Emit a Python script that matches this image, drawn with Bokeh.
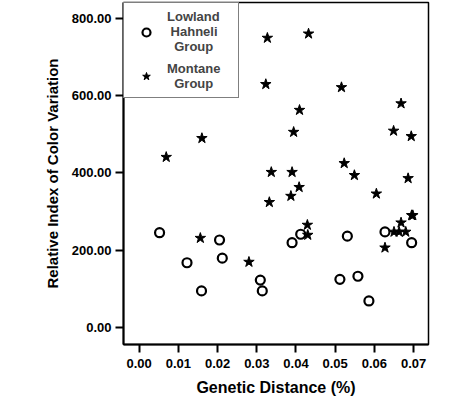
from bokeh.plotting import figure
from bokeh.models import (FixedTicker, NumeralTickFormatter, Range1d, Legend, LegendItem)
from bokeh.embed import file_html
from bokeh.resources import INLINE

# Lowland Hahneli Group (open circles)
lowland_x = [0.0052, 0.0122, 0.0159, 0.0205, 0.0212, 0.0309, 0.0314, 0.0390,
             0.0412, 0.0531, 0.0512, 0.0558, 0.0586, 0.0627, 0.0695]
lowland_y = [245, 167, 94, 226, 179, 122, 94, 219,
             241, 236, 124, 132, 68, 247, 219]

# Montane Group (stars)
montane_x = [0.0069, 0.0160, 0.0156, 0.0280, 0.0327, 0.0323, 0.0432, 0.0409,
             0.0394, 0.0337, 0.0390, 0.0408, 0.0387, 0.0332, 0.0429, 0.0430,
             0.0516, 0.0523, 0.0549, 0.0605, 0.0668, 0.0649, 0.0694, 0.0686,
             0.0627, 0.0668, 0.0650, 0.0663, 0.0680, 0.0695, 0.0698]
montane_y = [441, 490, 231, 169, 750, 630, 761, 563,
             506, 402, 402, 363, 340, 324, 265, 239,
             622, 425, 394, 346, 580, 509, 495, 386,
             206, 271, 247, 247, 247, 290, 290]

x_ticks = [0.0, 0.01, 0.02, 0.03, 0.04, 0.05, 0.06, 0.07]
y_ticks = [0, 200, 400, 600, 800]

NB = "\u00a0"
legend_labels = ["Lowland\n" + NB + "Hahneli\n" + NB * 2 + "Group",
                 "Montane\n" + NB * 2 + "Group"]

FONT = "Liberation Sans"

p = figure(width=458, height=398, output_backend="svg", toolbar_location=None,
           x_range=Range1d(-0.004, 0.0738), y_range=Range1d(-45, 842),
           min_border_left=123, min_border_right=30, min_border_top=2,
           min_border_bottom=52)

p.xgrid.visible = False
p.ygrid.visible = False
p.outline_line_color = "black"
p.outline_line_width = 1.5
p.background_fill_color = "white"
p.border_fill_color = "white"

for ax in (p.xaxis[0], p.yaxis[0]):
    ax.major_label_text_font = FONT
    ax.major_label_text_font_style = "bold"
    ax.major_label_text_font_size = "13px"
    ax.major_label_text_color = "black"
    ax.axis_label_text_font = FONT
    ax.axis_label_text_font_style = "bold"
    ax.axis_label_text_color = "black"
    ax.minor_tick_line_color = None
    ax.major_tick_in = 0
    ax.major_tick_out = 8
    ax.major_tick_line_width = 2
    ax.major_tick_line_color = "black"
    ax.axis_line_width = 2
    ax.axis_line_color = "black"
    ax.major_label_standoff = 4

p.xaxis.major_label_standoff = 6
p.xaxis.ticker = FixedTicker(ticks=x_ticks)
p.yaxis.ticker = FixedTicker(ticks=y_ticks)
p.xaxis.formatter = NumeralTickFormatter(format="0.00")
p.yaxis.formatter = NumeralTickFormatter(format="0.00")
p.xaxis.axis_label = "Genetic Distance (%)"
p.yaxis.axis_label = "Relative Index of Color Variation"
p.xaxis.axis_label_text_font_size = "16px"
p.yaxis.axis_label_text_font_size = "15px"
p.xaxis.axis_label_standoff = 8
p.yaxis.axis_label_standoff = 8

r1 = p.scatter(lowland_x, lowland_y, marker="circle", size=9,
               fill_color=None, line_color="black", line_width=2.2)
r2 = p.scatter(montane_x, montane_y, marker="star", size=11,
               fill_color="black", line_color="black", line_width=1)

legend = Legend(items=[
    LegendItem(label=legend_labels[0], renderers=[r1]),
    LegendItem(label=legend_labels[1], renderers=[r2]),
], location="top_left")
legend.margin = 0
legend.padding = 6
legend.spacing = 7
legend.label_text_font = FONT
legend.label_text_font_style = "bold"
legend.label_text_font_size = "13px"
legend.label_text_line_height = 1.28
legend.label_standoff = 5
legend.glyph_width = 32
legend.label_width = 65
legend.border_line_color = "black"
legend.border_line_width = 1
legend.background_fill_alpha = 1
p.add_layout(legend)

open("out.html", "w").write(file_html(p, INLINE))
